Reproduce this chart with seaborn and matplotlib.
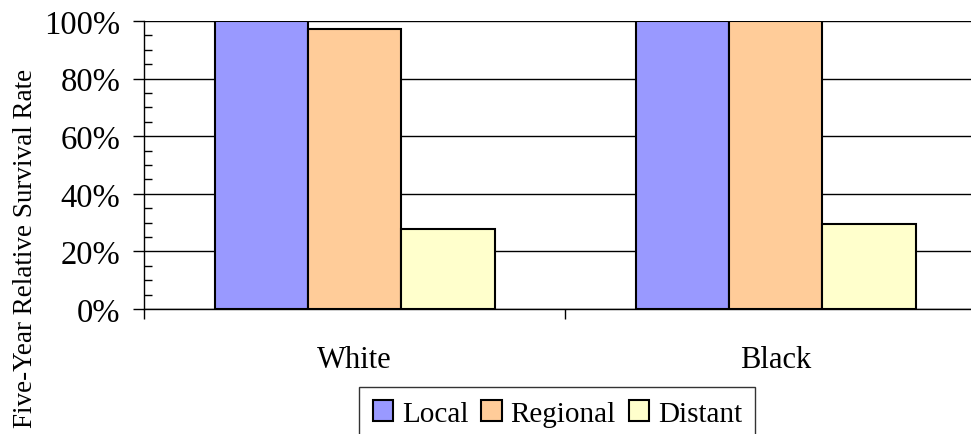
import pandas as pd
import matplotlib.pyplot as plt
import seaborn as sns
from matplotlib.ticker import MultipleLocator, FixedLocator, PercentFormatter

# dados
grupos = ['White', 'Black']
estagios = ['Local', 'Regional', 'Distant']
local = [100, 100]
regional = [97.3, 100]
distant = [27.7, 29.5]
cores = ['#9999FF', '#FFCC99', '#FFFFCC']

df = pd.DataFrame({
    'grupo': grupos * 3,
    'estagio': [e for e in estagios for _ in grupos],
    'taxa': local + regional + distant,
})

sns.set_style('white')
plt.rcParams['font.family'] = ['Liberation Serif', 'DejaVu Serif']
plt.rcParams['text.color'] = 'black'
plt.rcParams['axes.labelcolor'] = 'black'
plt.rcParams['xtick.color'] = 'black'
plt.rcParams['ytick.color'] = 'black'

fig = plt.figure(figsize=(9.71, 4.35), dpi=100)
ax = fig.add_axes([144 / 971, 1 - 310 / 435, 1 - 144 / 971, 288 / 435])

sns.barplot(data=df, x='grupo', y='taxa', hue='estagio', order=grupos,
            hue_order=estagios, palette=cores, width=0.665, gap=0,
            edgecolor='black', linewidth=1.5, saturation=1, ax=ax)

ax.set_xlim(-0.5, 1.464)
ax.set_ylim(0, 100)

# eixo y
ax.yaxis.set_major_locator(MultipleLocator(20))
ax.yaxis.set_minor_locator(MultipleLocator(5))
ax.yaxis.set_major_formatter(PercentFormatter(decimals=0))
ax.tick_params(axis='y', which='major', direction='out', length=8, width=1,
               color='black', labelsize=23.5, pad=9, left=True)
ax.tick_params(axis='y', which='minor', direction='in', length=6, width=1,
               color='black', left=True)
ax.grid(axis='y', which='major', color='black', linewidth=1)
ax.set_axisbelow(True)

# eixo x: marcas nas divisoes, rotulos no centro
ax.xaxis.set_major_locator(FixedLocator([-0.5, 0.5, 1.5]))
ax.xaxis.set_minor_locator(FixedLocator([0, 1]))
ax.set_xticklabels(['', '', ''])
ax.xaxis.set_minor_formatter(plt.FixedFormatter(grupos))
ax.tick_params(axis='x', which='major', direction='out', length=7, width=1,
               color='black', bottom=True)
ax.tick_params(axis='x', which='minor', length=0, labelsize=22, pad=26)
ax.set_xlabel('')

for lado in ['top', 'right']:
    ax.spines[lado].set_visible(False)
for lado in ['left', 'bottom']:
    ax.spines[lado].set_color('black')
    ax.spines[lado].set_linewidth(1)

ax.set_ylabel('Five-Year Relative Survival Rate', fontsize=19.5)
ax.yaxis.set_label_coords(-0.128, 0.215)

# legenda embaixo
handles, labels = ax.get_legend_handles_labels()
ax.get_legend().remove()
leg = fig.legend(handles, labels, loc='upper center', ncol=3,
                 bbox_to_anchor=(0.574, 1 - 388 / 435), fontsize=21,
                 frameon=True, fancybox=False, edgecolor='black',
                 handlelength=0.7, handleheight=0.7, handletextpad=0.3,
                 columnspacing=0.45, borderpad=0.45, borderaxespad=0)
leg.get_frame().set_linewidth(1)

fig.savefig('out.png', dpi=100)
